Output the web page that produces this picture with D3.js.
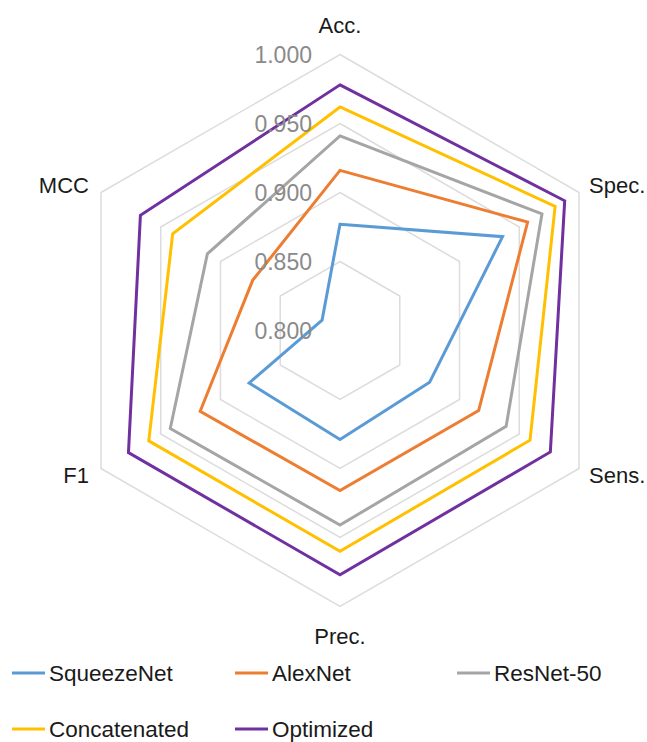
<!DOCTYPE html>
<html>
<head>
<meta charset="utf-8">
<script src="https://cdn.jsdelivr.net/npm/d3@7"></script>
<style>
  html, body { margin: 0; padding: 0; background: #fff; }
  svg { display: block; }
</style>
</head>
<body>
<script>
// Metric axes, clockwise from the top
const axes = ["Acc.", "Spec.", "Sens.", "Prec.", "F1", "MCC"];
// Radial tick values
const ticks = [0.800, 0.850, 0.900, 0.950, 1.000];
// Model names and their scores per axis
const models = ["SqueezeNet", "AlexNet", "ResNet-50", "Concatenated", "Optimized"];
const squeezeNet   = [0.877, 0.936, 0.875, 0.879, 0.876, 0.815];
const alexNet      = [0.916, 0.957, 0.916, 0.916, 0.917, 0.873];
const resNet50     = [0.941, 0.969, 0.939, 0.941, 0.942, 0.911];
const concatenated = [0.962, 0.980, 0.959, 0.960, 0.960, 0.940];
const optimized    = [0.978, 0.988, 0.976, 0.977, 0.977, 0.967];
const colors = ["#5B9BD5", "#ED7D31", "#A5A5A5", "#FFC000", "#7030A0"];

const seriesValues = [squeezeNet, alexNet, resNet50, concatenated, optimized];

const W = 647, H = 742;
const cx = 340, cy = 330.5, R = 276;
const font = "'Liberation Sans', Arial, sans-serif";

const svg = d3.select("body").append("svg")
  .attr("width", W).attr("height", H);

const r = d3.scaleLinear().domain([0.8, 1.0]).range([0, R]);
const angle = d3.scalePoint().domain(axes).range([0, 2 * Math.PI * (axes.length - 1) / axes.length]);

const pt = (axis, v) => {
  const a = angle(axis);
  return [cx + r(v) * Math.sin(a), cy - r(v) * Math.cos(a)];
};

const line = d3.line().curve(d3.curveLinearClosed);

// Hexagonal grid rings
svg.append("g").selectAll("path")
  .data(ticks.filter(t => t > 0.8))
  .join("path")
  .attr("d", t => line(axes.map(a => pt(a, t))))
  .attr("fill", "none")
  .attr("stroke", "#dcdcdc")
  .attr("stroke-width", 1.5);

// Series polygons
svg.append("g").selectAll("path")
  .data(seriesValues)
  .join("path")
  .attr("d", vals => line(axes.map((a, i) => pt(a, vals[i]))))
  .attr("fill", "none")
  .attr("stroke", (d, i) => colors[i])
  .attr("stroke-width", 3)
  .attr("stroke-linejoin", "miter");

// Radial tick labels
svg.append("g").selectAll("text")
  .data(ticks)
  .join("text")
  .attr("x", cx - 28)
  .attr("y", t => cy - r(t))
  .attr("dy", "0.35em")
  .attr("text-anchor", "end")
  .attr("font-family", font)
  .attr("font-size", 23)
  .attr("fill", "#8a8a8a")
  .text(t => d3.format(".3f")(t));

// Axis labels
const labelPos = {
  "Acc.":  { dx: 0,   dy: -22, anchor: "middle" },
  "Spec.": { dx: 10,  dy: 0,   anchor: "start" },
  "Sens.": { dx: 10,  dy: 14,  anchor: "start" },
  "Prec.": { dx: 0,   dy: 37,  anchor: "middle" },
  "F1":    { dx: -12, dy: 14,  anchor: "end" },
  "MCC":   { dx: -12, dy: 0,   anchor: "end" }
};
svg.append("g").selectAll("text")
  .data(axes)
  .join("text")
  .attr("x", a => pt(a, 1.0)[0] + labelPos[a].dx)
  .attr("y", a => pt(a, 1.0)[1] + labelPos[a].dy)
  .attr("text-anchor", a => labelPos[a].anchor)
  .attr("font-family", font)
  .attr("font-size", 22)
  .attr("fill", "#1a1a1a")
  .text(a => a);

// Legend
const legendX = [12, 235, 457];
const legendY = [673, 729];
const legend = svg.append("g").selectAll("g")
  .data(models)
  .join("g")
  .attr("transform", (d, i) => `translate(${legendX[i % 3]},${legendY[Math.floor(i / 3)]})`);
legend.append("line")
  .attr("x1", 0).attr("x2", 33)
  .attr("y1", 0).attr("y2", 0)
  .attr("stroke", (d, i) => colors[i])
  .attr("stroke-width", 3);
legend.append("text")
  .attr("x", 37)
  .attr("y", 8)
  .attr("font-family", font)
  .attr("font-size", 22.5)
  .attr("fill", "#1a1a1a")
  .text(d => d);
</script>
</body>
</html>
